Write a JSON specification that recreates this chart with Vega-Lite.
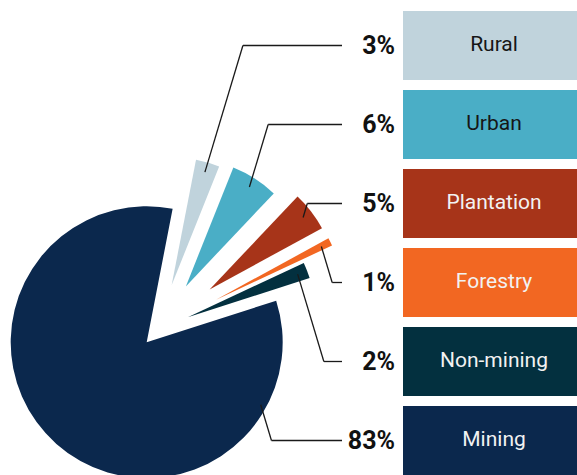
{
  "$schema": "https://vega.github.io/schema/vega-lite/v6.json",
  "padding": 0,
  "spacing": 0,
  "background": "white",
  "config": {"view": {"stroke": null}},
  "data": {"values": [
    {"category": "Rural", "value": 3},
    {"category": "Urban", "value": 6},
    {"category": "Plantation", "value": 5},
    {"category": "Forestry", "value": 1},
    {"category": "Non-mining", "value": 2},
    {"category": "Mining", "value": 83}
  ]},
  "hconcat": [
    {
      "width": 403,
      "height": 475,
      "transform": [
        {"window": [{"op": "row_number", "as": "rank"}]},
        {"stack": "value", "groupby": [], "sort": [{"field": "rank", "order": "ascending"}], "as": ["a0", "a1"]},
        {"calculate": "PI*11/180 + PI*(datum.a0+datum.a1)/100", "as": "mid"},
        {"calculate": "datum.category==='Mining' ? 18.4 : datum.category==='Rural' ? 45 : datum.category==='Urban' ? 50 : datum.category==='Non-mining' ? 31 : 64", "as": "explode"},
        {"calculate": "158.9 + datum.explode*sin(datum.mid)", "as": "cx"},
        {"calculate": "328.5 - datum.explode*cos(datum.mid)", "as": "cy"},
        {"calculate": "datum.category==='Mining' ? PI*118.7/180 : datum.mid", "as": "la"},
        {"calculate": "datum.category==='Mining' ? 130 : 118", "as": "ll"},
        {"calculate": "datum.cx + datum.ll*sin(datum.la)", "as": "px"},
        {"calculate": "datum.cy - datum.ll*cos(datum.la)", "as": "py"},
        {"calculate": "45.5 + 79*(datum.rank-1)", "as": "ly"},
        {"calculate": "min(338, datum.px + abs(datum.py - datum.ly)*0.3)", "as": "ex"},
        {"calculate": "datum.value + '%'", "as": "pct"}
      ],
      "layer": [
        {
          "transform": [{"filter": "datum.category === 'Mining'"}],
          "mark": {"type": "arc", "radius": 136},
          "encoding": {
            "x": {"field": "cx", "type": "quantitative", "scale": {"domain": [0, 403], "nice": false, "zero": false}, "axis": null},
            "y": {"field": "cy", "type": "quantitative", "scale": {"domain": [0, 475], "nice": false, "zero": false, "reverse": true}, "axis": null},
            "theta": {"field": "a0", "type": "quantitative", "stack": null, "scale": {"domain": [0, 100], "range": [0.19199, 6.47518]}},
            "theta2": {"field": "a1"},
            "color": {"field": "category", "type": "nominal", "legend": null,
              "scale": {"domain": ["Rural", "Urban", "Plantation", "Forestry", "Non-mining", "Mining"],
                        "range": ["#c0d3dc", "#4aaec6", "#a73419", "#f26722", "#03303f", "#0b284d"]}}
          }
        },
        {
          "transform": [{"filter": "datum.category !== 'Mining'"}],
          "mark": {"type": "arc", "radius": 128},
          "encoding": {
            "x": {"field": "cx", "type": "quantitative"},
            "y": {"field": "cy", "type": "quantitative"},
            "theta": {"field": "a0", "type": "quantitative", "stack": null, "scale": {"domain": [0, 100], "range": [0.19199, 6.47518]}},
            "theta2": {"field": "a1"},
            "color": {"field": "category", "type": "nominal", "legend": null}
          }
        },
        {
          "mark": {"type": "rule", "color": "#1a1a1a", "strokeWidth": 1.3},
          "encoding": {
            "x": {"field": "px", "type": "quantitative"},
            "y": {"field": "py", "type": "quantitative"},
            "x2": {"field": "ex"},
            "y2": {"field": "ly"}
          }
        },
        {
          "mark": {"type": "rule", "color": "#1a1a1a", "strokeWidth": 1.3},
          "encoding": {
            "x": {"field": "ex", "type": "quantitative"},
            "y": {"field": "ly", "type": "quantitative"},
            "x2": {"datum": 342},
            "y2": {"field": "ly"}
          }
        },
        {
          "mark": {"type": "text", "dx": -8, "align": "right", "baseline": "middle", "font": "Roboto", "fontWeight": "bold", "fontSize": 25, "color": "#111111"},
          "encoding": {
            "x": {"value": "width"},
            "y": {"field": "ly", "type": "quantitative"},
            "text": {"field": "pct"}
          }
        }
      ]
    },
    {
      "width": 174,
      "height": 475,
      "encoding": {
        "y": {"field": "category", "type": "nominal", "axis": null,
              "sort": ["Rural", "Urban", "Plantation", "Forestry", "Non-mining", "Mining"],
              "scale": {"paddingInner": 0.12658, "paddingOuter": 0.0696, "align": 1}}
      },
      "layer": [
        {
          "mark": {"type": "rect"},
          "encoding": {
            "color": {"field": "category", "type": "nominal", "legend": null}
          }
        },
        {
          "mark": {"type": "text", "font": "Roboto", "fontSize": 21, "dx": 4, "baseline": "middle", "align": "center"},
          "encoding": {
            "text": {"field": "category"},
            "color": {"condition": {"test": "datum.category === 'Rural' || datum.category === 'Urban'", "value": "#161616"}, "value": "#f2f2f2"}
          }
        }
      ]
    }
  ]
}
